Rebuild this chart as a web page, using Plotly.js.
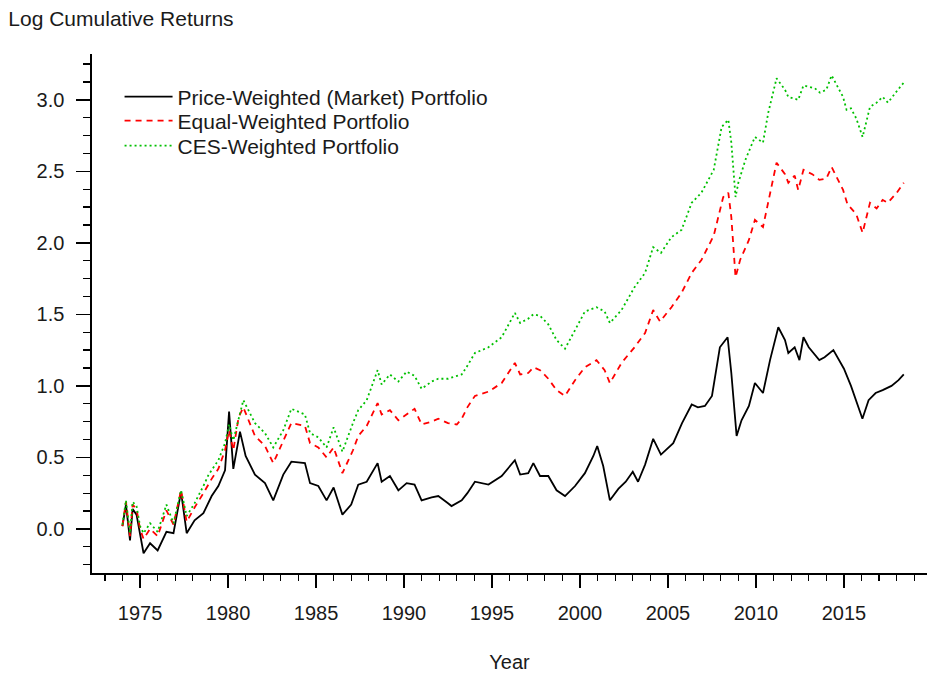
<!DOCTYPE html>
<html>
<head>
<meta charset="utf-8">
<script src="https://cdn.plot.ly/plotly-3.0.1.min.js"></script>
<style>html,body{margin:0;padding:0;background:#fff;}#chart{width:927px;height:676px;}</style>
</head>
<body>
<div id="chart"></div>
<script>
// Price-weighted (market) portfolio
const marketYears = [1974.0,1974.2,1974.43,1974.58,1974.8,1975.0,1975.2,1975.57,1976.0,1976.5,1976.9,1977.33,1977.65,1978.1,1978.6,1979.07,1979.45,1979.83,1980.06,1980.3,1980.68,1981.0,1981.53,1982.1,1982.57,1983.14,1983.6,1984.37,1984.66,1985.13,1985.6,1986.0,1986.5,1987.0,1987.4,1987.88,1988.5,1988.73,1989.2,1989.68,1990.15,1990.6,1991.0,1991.57,1991.95,1992.5,1992.7,1993.28,1993.6,1994.03,1994.8,1995.55,1996.3,1996.6,1997.06,1997.35,1997.73,1998.2,1998.67,1999.15,1999.72,2000.28,2000.76,2000.98,2001.32,2001.7,2002.18,2002.6,2003.0,2003.3,2003.7,2004.16,2004.6,2005.3,2005.8,2006.35,2006.7,2007.1,2007.5,2007.95,2008.39,2008.6,2008.9,2009.18,2009.6,2009.94,2010.4,2010.8,2011.27,2011.65,2011.84,2012.2,2012.47,2012.7,2013.0,2013.6,2013.9,2014.4,2015.0,2015.4,2015.7,2016.05,2016.4,2016.8,2017.2,2017.7,2018.1,2018.4];
const marketValues = [0.02,0.17,-0.08,0.14,0.10,-0.05,-0.17,-0.10,-0.15,-0.02,-0.03,0.26,-0.03,0.06,0.11,0.23,0.30,0.41,0.82,0.42,0.68,0.51,0.38,0.32,0.20,0.38,0.47,0.46,0.32,0.30,0.20,0.29,0.10,0.17,0.31,0.33,0.46,0.33,0.37,0.27,0.32,0.31,0.20,0.22,0.23,0.18,0.16,0.20,0.25,0.33,0.31,0.37,0.48,0.38,0.39,0.46,0.37,0.37,0.27,0.23,0.30,0.39,0.51,0.58,0.44,0.20,0.28,0.33,0.40,0.33,0.45,0.63,0.52,0.60,0.74,0.87,0.85,0.86,0.93,1.27,1.34,1.09,0.65,0.76,0.86,1.02,0.95,1.18,1.41,1.32,1.23,1.27,1.18,1.34,1.27,1.18,1.20,1.25,1.12,1.00,0.90,0.77,0.90,0.95,0.97,1.00,1.04,1.08];

// Equal-weighted portfolio
const equalYears = [1974.0,1974.2,1974.43,1974.58,1974.8,1975.0,1975.2,1975.57,1976.0,1976.5,1976.9,1977.33,1977.65,1978.1,1978.6,1979.07,1979.45,1979.83,1980.06,1980.3,1980.6,1980.87,1981.53,1982.1,1982.57,1983.14,1983.6,1984.37,1984.66,1985.13,1985.6,1986.0,1986.5,1987.1,1987.4,1987.88,1988.5,1988.73,1989.2,1989.68,1990.15,1990.6,1991.0,1991.57,1991.95,1992.5,1993.0,1993.28,1993.6,1994.03,1994.8,1995.55,1996.3,1996.6,1997.06,1997.35,1997.73,1998.2,1998.67,1999.15,1999.72,2000.28,2000.94,2001.4,2001.7,2002.36,2003.1,2003.7,2004.16,2004.55,2005.2,2005.77,2006.35,2006.9,2007.6,2008.14,2008.43,2008.6,2008.84,2009.1,2009.6,2009.94,2010.4,2010.7,2011.17,2011.65,2011.84,2012.2,2012.4,2012.7,2013.2,2013.6,2014.0,2014.3,2014.95,2015.2,2015.7,2016.06,2016.48,2016.86,2017.2,2017.5,2018.0,2018.4];
const equalValues = [0.02,0.19,-0.05,0.17,0.14,0.00,-0.07,0.00,-0.05,0.13,0.03,0.27,0.05,0.15,0.25,0.35,0.42,0.55,0.69,0.55,0.78,0.85,0.65,0.58,0.46,0.62,0.74,0.72,0.60,0.57,0.50,0.57,0.39,0.55,0.65,0.72,0.88,0.80,0.83,0.76,0.80,0.84,0.73,0.75,0.77,0.74,0.73,0.77,0.85,0.93,0.96,1.02,1.16,1.08,1.09,1.13,1.11,1.05,0.97,0.93,1.04,1.13,1.18,1.11,1.02,1.16,1.27,1.37,1.53,1.45,1.55,1.65,1.79,1.88,2.05,2.32,2.35,2.18,1.76,1.88,2.02,2.16,2.11,2.28,2.56,2.48,2.42,2.47,2.37,2.51,2.48,2.44,2.45,2.53,2.37,2.27,2.20,2.07,2.28,2.24,2.30,2.28,2.35,2.42];

// CES-weighted portfolio
const cesYears = [1974.0,1974.2,1974.43,1974.58,1974.8,1975.0,1975.2,1975.57,1976.0,1976.5,1976.9,1977.33,1977.65,1978.1,1978.6,1978.9,1979.45,1979.83,1980.06,1980.3,1980.87,1981.53,1982.1,1982.57,1983.14,1983.6,1984.37,1984.66,1985.13,1985.6,1986.0,1986.5,1987.1,1987.4,1987.88,1988.5,1988.73,1989.2,1989.68,1990.15,1990.6,1991.0,1991.57,1991.95,1992.5,1993.28,1993.6,1994.03,1994.8,1995.55,1996.3,1996.6,1997.06,1997.35,1997.73,1998.2,1998.67,1999.15,1999.72,2000.28,2000.94,2001.4,2001.7,2002.36,2003.1,2003.7,2004.16,2004.6,2005.2,2005.77,2006.35,2006.9,2007.6,2008.05,2008.43,2008.6,2008.84,2009.0,2009.4,2009.94,2010.4,2010.7,2011.17,2011.65,2011.84,2012.4,2012.7,2013.35,2013.64,2014.0,2014.3,2014.95,2015.15,2015.4,2015.7,2016.06,2016.48,2016.86,2017.2,2017.5,2018.0,2018.4];
const cesValues = [0.03,0.20,-0.03,0.19,0.16,0.02,-0.03,0.04,-0.02,0.17,0.04,0.27,0.09,0.18,0.30,0.38,0.48,0.60,0.73,0.62,0.90,0.74,0.67,0.57,0.69,0.84,0.80,0.67,0.64,0.57,0.71,0.54,0.74,0.83,0.90,1.11,1.01,1.08,1.03,1.10,1.07,0.98,1.03,1.05,1.05,1.08,1.14,1.23,1.27,1.34,1.51,1.44,1.47,1.50,1.49,1.43,1.32,1.26,1.39,1.52,1.55,1.52,1.44,1.53,1.69,1.79,1.97,1.93,2.04,2.09,2.28,2.35,2.51,2.81,2.86,2.70,2.32,2.42,2.58,2.74,2.70,2.91,3.15,3.07,3.02,3.00,3.10,3.08,3.05,3.07,3.17,3.02,2.93,2.94,2.87,2.74,2.95,2.98,3.02,2.98,3.06,3.12];

const seriesNames = ["Price-Weighted (Market) Portfolio","Equal-Weighted Portfolio","CES-Weighted Portfolio"];

const FONT = "Liberation Sans, Arial, sans-serif";
const TXT = "#1a1a1a";

const traces = [
  {x: marketYears, y: marketValues, name: seriesNames[0], type: "scatter", mode: "lines", legend: "legend",
   line: {color: "#000000", width: 1.8}},
  {x: equalYears, y: equalValues, name: seriesNames[1], type: "scatter", mode: "lines", legend: "legend2",
   line: {color: "#ff0000", width: 1.8, dash: "6px,5px"}},
  {x: cesYears, y: cesValues, name: seriesNames[2], type: "scatter", mode: "lines", legend: "legend3",
   line: {color: "#00c000", width: 1.8, dash: "2px,3px"}}
];

function legendAt(yc) {
  return {x: 0.033, y: yc, xanchor: "left", yanchor: "middle", bgcolor: "rgba(0,0,0,0)",
          font: {family: FONT, size: 21, color: TXT}, itemwidth: 48};
}

const layout = {
  width: 927, height: 676,
  margin: {l: 92, r: 0, t: 54, b: 103, pad: 0},
  paper_bgcolor: "#ffffff", plot_bgcolor: "#ffffff",
  font: {family: FONT, size: 20, color: TXT},
  showlegend: true,
  title: {text: "Log Cumulative Returns", x: 0.009, xref: "container", xanchor: "left",
          y: 0.973, yref: "container", yanchor: "middle", font: {family: FONT, size: 21, color: TXT}},
  xaxis: {
    range: [1972.27, 2019.72], showgrid: false, zeroline: false,
    showline: true, linecolor: "#000", linewidth: 1.6,
    tickmode: "linear", tick0: 1975, dtick: 5, ticks: "outside", ticklen: 13, tickwidth: 1.6, tickcolor: "#000",
    ticklabelstandoff: 8,
    minor: {tickmode: "linear", tick0: 1975, dtick: 1, ticks: "outside", ticklen: 6, tickwidth: 1.3, tickcolor: "#000", showgrid: false},
    tickfont: {family: FONT, size: 20, color: TXT},
    title: {text: "Year", standoff: 32, font: {family: FONT, size: 20, color: TXT}}
  },
  yaxis: {
    range: [-0.308, 3.32], showgrid: false, zeroline: false,
    showline: true, linecolor: "#000", linewidth: 1.6,
    tickmode: "linear", tick0: 0, dtick: 0.5, tickformat: ".1f",
    ticks: "outside", ticklen: 14, tickwidth: 1.6, tickcolor: "#000",
    ticklabelstandoff: 8,
    minor: {tickmode: "linear", tick0: 0, dtick: 0.125, ticks: "outside", ticklen: 7, tickwidth: 1.3, tickcolor: "#000", showgrid: false},
    tickfont: {family: FONT, size: 20, color: TXT}
  },
  legend: legendAt(0.9171),
  legend2: legendAt(0.8709),
  legend3: legendAt(0.8227)
};

Plotly.newPlot("chart", traces, layout, {displayModeBar: false, staticPlot: true});
</script>
</body>
</html>
